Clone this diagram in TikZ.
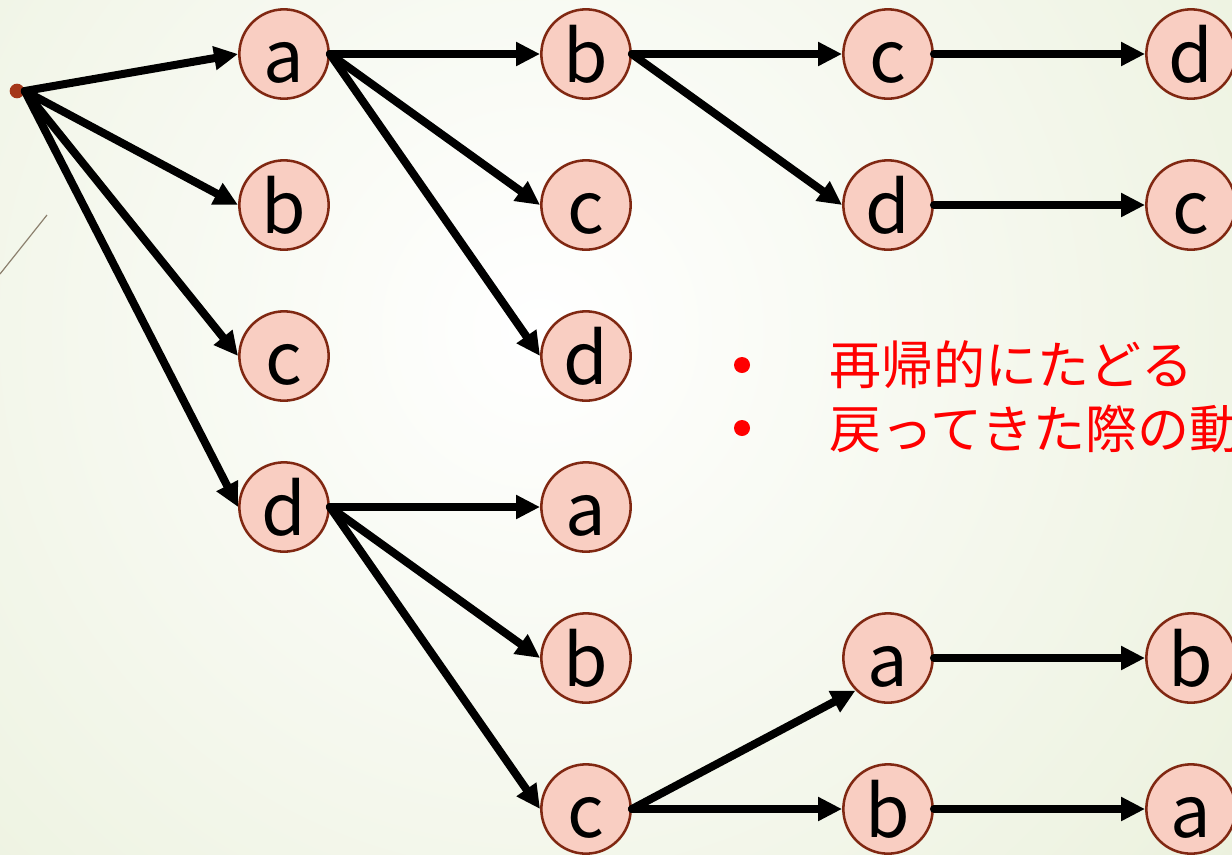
\documentclass[tikz,border=0pt]{standalone}
\usepackage{fontspec}
\newfontfamily\jpfont{Noto Sans CJK JP}
\usetikzlibrary{arrows.meta}

\definecolor{nodefill}{RGB}{249,206,194}
\definecolor{nodeline}{RGB}{128,40,18}
\definecolor{rootdot}{RGB}{165,55,25}
\definecolor{bggreen}{RGB}{224,233,202}

\tikzset{every picture/.style={line width=0.75pt}}
\tikzset{
  vertex/.style={circle, draw=nodeline, fill=nodefill, line width=1.9pt, minimum size=67pt, inner sep=0pt,
    text height=42pt, text depth=0pt, font=\jpfont\fontsize{54}{54}\selectfont},
  walk/.style={line width=6pt, line cap=round, -{Triangle[length=18pt,width=17pt]}},
  memo/.style={anchor=base west, inner sep=0pt, text=red, font=\jpfont\fontsize{39}{39}\selectfont}
}

\begin{document}
\begin{tikzpicture}[x=0.75pt,y=0.75pt,yscale=-1,xscale=1]
	\useasboundingbox (0,0) rectangle (1232,854);

	%Shape: Background
	\begin{scope}
	\clip (0,0) rectangle (1232,854);
	\shade [inner color=white, outer color=bggreen] (540,330) circle (1400);
	\end{scope}
	%Straight Lines: slide decoration
	\draw [color={rgb, 255:red, 140; green, 128; blue, 110 }, line width=0.9pt] (0,274) -- (47,215);

	%Shape: Circle [start]
	\node [circle, fill=rootdot, inner sep=0pt, minimum size=11pt] (root) at (17,91) {};

	%Shape: Circle [first step]
	\node [vertex] (a1) at (284,54) {a};
	\node [vertex] (b1) at (284,205) {b};
	\node [vertex] (c1) at (284,356) {c};
	\node [vertex] (d1) at (284,507) {d};
	%Shape: Circle [second step]
	\node [vertex] (ab) at (586,54) {b};
	\node [vertex] (ac) at (586,205) {c};
	\node [vertex] (ad) at (586,356) {d};
	\node [vertex] (da) at (586,507) {a};
	\node [vertex] (db) at (586,658) {b};
	\node [vertex] (dc) at (586,809) {c};
	%Shape: Circle [third step]
	\node [vertex] (abc) at (888,54) {c};
	\node [vertex] (abd) at (888,205) {d};
	\node [vertex] (dca) at (888,658) {a};
	\node [vertex] (dcb) at (888,809) {b};
	%Shape: Circle [fourth step]
	\node [vertex] (abcd) at (1191,54) {d};
	\node [vertex] (abdc) at (1191,205) {c};
	\node [vertex] (dcab) at (1191,658) {b};
	\node [vertex] (dcba) at (1191,809) {a};

	%Straight Lines
	\draw [walk] (root.east) -- (a1.west);
	\draw [walk] (root.east) -- (b1.west);
	\draw [walk] (root.east) -- (c1.west);
	\draw [walk] (root.east) -- (d1.west);
	\draw [walk] (a1.east) -- (ab.west);
	\draw [walk] (a1.east) -- (ac.west);
	\draw [walk] (a1.east) -- (ad.west);
	\draw [walk] (ab.east) -- (abc.west);
	\draw [walk] (ab.east) -- (abd.west);
	\draw [walk] (abc.east) -- (abcd.west);
	\draw [walk] (abd.east) -- (abdc.west);
	\draw [walk] (d1.east) -- (da.west);
	\draw [walk] (d1.east) -- (db.west);
	\draw [walk] (d1.east) -- (dc.west);
	\draw [walk] (dc.east) -- (dca.south west);
	\draw [walk] (dc.east) -- (dcb.west);
	\draw [walk] (dca.east) -- (dcab.west);
	\draw [walk] (dcb.east) -- (dcba.west);

	% Text Node
	\fill [red] (742,365) circle (8);
	\node [memo] (recur) at (829,384) {再帰的にたどる};
	% Text Node
	\fill [red] (742,428) circle (8);
	\node [memo] (back) at (829,448) {戻ってきた際の動};

\end{tikzpicture}
\end{document}
